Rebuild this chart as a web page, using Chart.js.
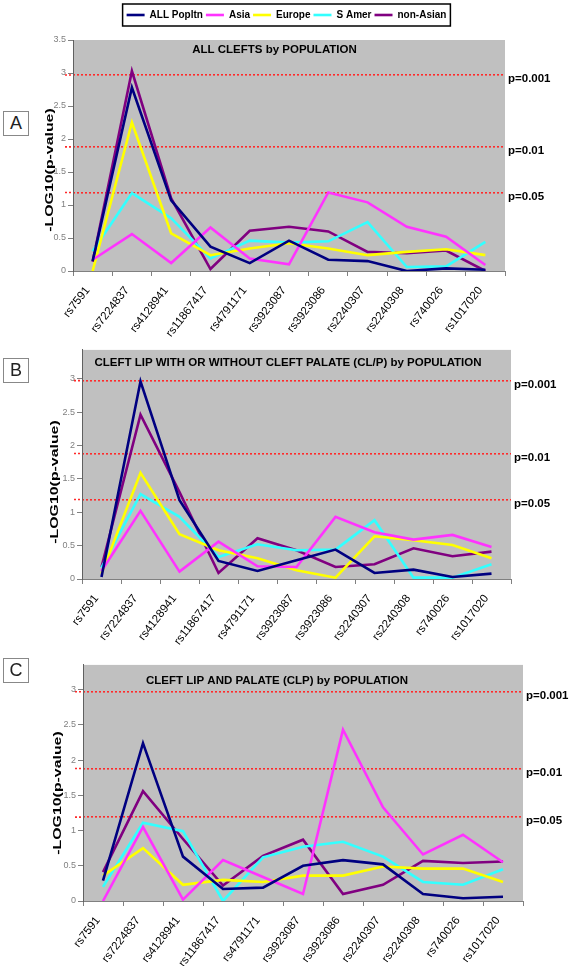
<!DOCTYPE html>
<html>
<head>
<meta charset="utf-8">
<script src="https://cdn.jsdelivr.net/npm/chart.js@4.4.1/dist/chart.umd.min.js"></script>
<style>
html,body{margin:0;padding:0;background:#fff;}
body{width:573px;height:966px;position:relative;overflow:hidden;font-family:'Liberation Sans',Arial,sans-serif;}
canvas{position:absolute;left:0;}
.letter{position:absolute;left:3px;width:24px;height:23px;border:1px solid #888;font-size:18px;line-height:23px;text-align:center;color:#222;background:#fff;}
</style>
</head>
<body>
<canvas id="cA" width="573" height="340" style="top:0px"></canvas>
<canvas id="cB" width="573" height="310" style="top:340px"></canvas>
<canvas id="cC" width="573" height="311" style="top:655px"></canvas>
<div class="letter" style="top:111px">A</div>
<div class="letter" style="top:358px">B</div>
<div class="letter" style="top:658px">C</div>
<script>
// ---------- data ----------
const categories = ['rs7591','rs7224837','rs4128941','rs11867417','rs4791171','rs3923087','rs3923086','rs2240307','rs2240308','rs740026','rs1017020'];
const seriesNames = ['ALL Popltn','Asia','Europe','S Amer','non-Asian'];

// Panel A: ALL CLEFTS by POPULATION
const allA      = [0.15, 2.78, 1.07, 0.37, 0.12, 0.46, 0.17, 0.15, 0.00, 0.04, 0.02];
const asiaA     = [0.17, 0.56, 0.12, 0.66, 0.19, 0.10, 1.19, 1.04, 0.67, 0.52, 0.09];
const europeA   = [0.00, 2.25, 0.57, 0.24, 0.34, 0.42, 0.34, 0.24, 0.29, 0.33, 0.24];
const sAmerA    = [0.30, 1.18, 0.80, 0.19, 0.46, 0.43, 0.45, 0.74, 0.06, 0.07, 0.44];
const nonAsianA = [0.14, 3.03, 1.10, 0.03, 0.61, 0.67, 0.60, 0.29, 0.27, 0.31, 0.00];

// Panel B: CL/P
const allB      = [0.03, 2.96, 1.18, 0.27, 0.12, 0.28, 0.44, 0.09, 0.14, 0.03, 0.08];
const asiaB     = [0.12, 1.02, 0.11, 0.56, 0.19, 0.18, 0.93, 0.70, 0.59, 0.66, 0.48];
const europeB   = [0.08, 1.59, 0.67, 0.43, 0.31, 0.13, 0.02, 0.64, 0.58, 0.51, 0.31];
const sAmerB    = [0.17, 1.27, 0.93, 0.33, 0.52, 0.43, 0.44, 0.88, 0.02, 0.02, 0.22];
const nonAsianB = [0.18, 2.46, 1.30, 0.09, 0.61, 0.43, 0.18, 0.22, 0.46, 0.34, 0.41];

// Panel C: CLP
const allC      = [0.29, 2.24, 0.63, 0.17, 0.19, 0.50, 0.58, 0.52, 0.10, 0.04, 0.06];
const asiaC     = [0.00, 1.05, 0.02, 0.58, 0.34, 0.10, 2.43, 1.33, 0.66, 0.94, 0.55];
const europeC   = [0.36, 0.75, 0.23, 0.30, 0.27, 0.36, 0.36, 0.49, 0.46, 0.46, 0.27];
const sAmerC    = [0.20, 1.11, 0.99, 0.00, 0.62, 0.77, 0.84, 0.63, 0.27, 0.23, 0.45];
const nonAsianC = [0.41, 1.56, 0.88, 0.22, 0.64, 0.87, 0.10, 0.23, 0.57, 0.54, 0.56];

const thresholdValues = [2.97, 1.88, 1.19];
const thresholdLabels = ['p=0.001', 'p=0.01', 'p=0.05'];
const yTicksA = [0, 0.5, 1, 1.5, 2, 2.5, 3, 3.5];
const yTicksBC = [0, 0.5, 1, 1.5, 2, 2.5, 3];
const yMaxA = 3.5, yMaxB = 3.43, yMaxC = 3.35;
const titleA = 'ALL CLEFTS by POPULATION';
const titleB = 'CLEFT LIP WITH OR WITHOUT CLEFT PALATE (CL/P) by POPULATION';
const titleC = 'CLEFT LIP AND PALATE (CLP) by POPULATION';
const yTitle = '-LOG10(p-value)';

// ---------- styling ----------
const FONT = "'Liberation Sans', Arial, sans-serif";
const seriesColors = ['#000080', '#ff33ff', '#ffff00', '#33ffff', '#800080'];
const thresholdColor = '#ff2a2a';

const panelDecor = {
  id: 'panelDecor',
  beforeDraw(chart, args, o) {
    const {ctx, chartArea: a} = chart;
    ctx.save();
    ctx.fillStyle = '#c0c0c0';
    ctx.fillRect(a.left, a.top, a.right - a.left, a.bottom - a.top);
    ctx.restore();
  },
  afterDraw(chart, args, o) {
    const {ctx, chartArea: a} = chart;
    ctx.save();
    // short extension of the threshold lines left of the axis
    const ps = chart.scales.p;
    ctx.strokeStyle = thresholdColor;
    ctx.lineWidth = 1.6;
    ctx.setLineDash([2, 2]);
    thresholdValues.forEach(v => {
      const y = ps.getPixelForValue(v);
      ctx.beginPath();
      ctx.moveTo(a.left - 8, y);
      ctx.lineTo(a.left, y);
      ctx.stroke();
    });
    ctx.setLineDash([]);
    // in-plot title
    ctx.fillStyle = '#000';
    ctx.font = 'bold 11.5px ' + FONT;
    ctx.textAlign = 'center';
    ctx.textBaseline = 'middle';
    ctx.fillText(o.title, (a.left + a.right) / 2 + o.titleDx, a.top + o.titleDy);
    // y axis title (stretched along its length like the source)
    ctx.translate(o.yTitleX, o.yTitleY);
    ctx.rotate(-Math.PI / 2);
    ctx.scale(1.38, 1);
    ctx.font = 'bold 11.5px ' + FONT;
    ctx.fillText(yTitle, 0, 0);
    ctx.restore();
    // legend frame
    if (o.legendFrame && chart.legend && chart.legend.legendHitBoxes && chart.legend.legendHitBoxes.length) {
      const hb = chart.legend.legendHitBoxes;
      let l = Infinity, r = -Infinity, t = Infinity, b = -Infinity;
      hb.forEach(h => { l = Math.min(l, h.left); r = Math.max(r, h.left + h.width); t = Math.min(t, h.top); b = Math.max(b, h.top + h.height); });
      ctx.save();
      ctx.strokeStyle = '#000';
      ctx.lineWidth = 1.5;
      ctx.strokeRect(l - 4, t - 6, r - l + 8, b - t + 12);
      ctx.restore();
    }
  }
};

function makePanel(id, p) {
  const datasets = p.series.map((vals, i) => ({
    label: seriesNames[i],
    data: vals,
    borderColor: seriesColors[i],
    backgroundColor: seriesColors[i],
    borderWidth: 2.6,
    pointRadius: 0,
    pointHoverRadius: 0,
    tension: 0,
    fill: false,
    yAxisID: 'y'
  }));
  return new Chart(document.getElementById(id), {
    type: 'line',
    data: { labels: categories, datasets },
    options: {
      responsive: false,
      animation: false,
      events: [],
      layout: { padding: { left: 0, right: 0, top: p.padTop, bottom: 0 } },
      plugins: {
        legend: {
          display: p.legend,
          position: 'top',
          labels: {
            usePointStyle: true, pointStyle: 'line', pointStyleWidth: 18,
            padding: 3, color: '#000',
            font: { family: FONT, size: 10, weight: 'bold' }
          }
        },
        subtitle: { display: p.legend, text: '', font: { size: 1 }, padding: { top: 0, bottom: p.spacer }, weight: 500 },
        title: { display: false },
        tooltip: { enabled: false },
        panelDecor: {
          title: p.title, titleDx: p.titleDx, titleDy: p.titleDy,
          yTitleX: p.yTitleX, yTitleY: p.yTitleY, legendFrame: p.legend
        }
      },
      scales: {
        x: {
          type: 'category',
          offset: true,
          grid: { offset: true, drawOnChartArea: false, drawTicks: true, tickLength: 5, color: '#808080' },
          border: { color: '#808080', width: 1 },
          ticks: {
            autoSkip: false, minRotation: 52, maxRotation: 52, padding: 8, labelOffset: -5,
            color: '#000', font: { family: FONT, size: 11.5 }
          },
          afterFit: s => { s.height = p.xHeight; }
        },
        y: {
          type: 'linear', position: 'left', min: 0, max: p.yMax,
          afterBuildTicks: s => { s.ticks = p.yTicks.map(v => ({ value: v })); },
          ticks: { color: '#808080', font: { family: FONT, size: 9 }, padding: 2, callback: v => String(v) },
          grid: { drawOnChartArea: false, drawTicks: true, tickLength: 5, color: '#808080' },
          border: { color: '#606060', width: 1 },
          afterFit: s => { s.width = p.left; }
        },
        p: {
          type: 'linear', position: 'right', min: 0, max: p.yMax,
          afterBuildTicks: s => { s.ticks = thresholdValues.map(v => ({ value: v })); },
          ticks: {
            color: '#000', font: { family: FONT, size: 11.5, weight: 'bold' },
            padding: 3, labelOffset: 4,
            callback: (v, i) => thresholdLabels[i]
          },
          grid: { drawOnChartArea: true, drawTicks: false, color: thresholdColor, lineWidth: 1.6 },
          border: { display: false, dash: [2, 2] },
          afterFit: s => { s.width = 573 - p.right; }
        }
      }
    },
    plugins: [panelDecor]
  });
}

makePanel('cA', {
  series: [allA, asiaA, europeA, sAmerA, nonAsianA],
  yMax: yMaxA, yTicks: yTicksA, legend: true, padTop: 7, spacer: 8.8,
  left: 73, right: 505, xHeight: 69,
  title: titleA, titleDx: -14.5, titleDy: 10, yTitleX: 50, yTitleY: 170
});
makePanel('cB', {
  series: [allB, asiaB, europeB, sAmerB, nonAsianB],
  yMax: yMaxB, yTicks: yTicksBC, legend: false, padTop: 9, spacer: 0,
  left: 82, right: 511, xHeight: 71,
  title: titleB, titleDx: -8.5, titleDy: 13, yTitleX: 55, yTitleY: 142
});
makePanel('cC', {
  series: [allC, asiaC, europeC, sAmerC, nonAsianC],
  yMax: yMaxC, yTicks: yTicksBC, legend: false, padTop: 8, spacer: 0,
  left: 83, right: 523, xHeight: 65,
  title: titleC, titleDx: -26, titleDy: 16, yTitleX: 58, yTitleY: 138
});
</script>
</body>
</html>
